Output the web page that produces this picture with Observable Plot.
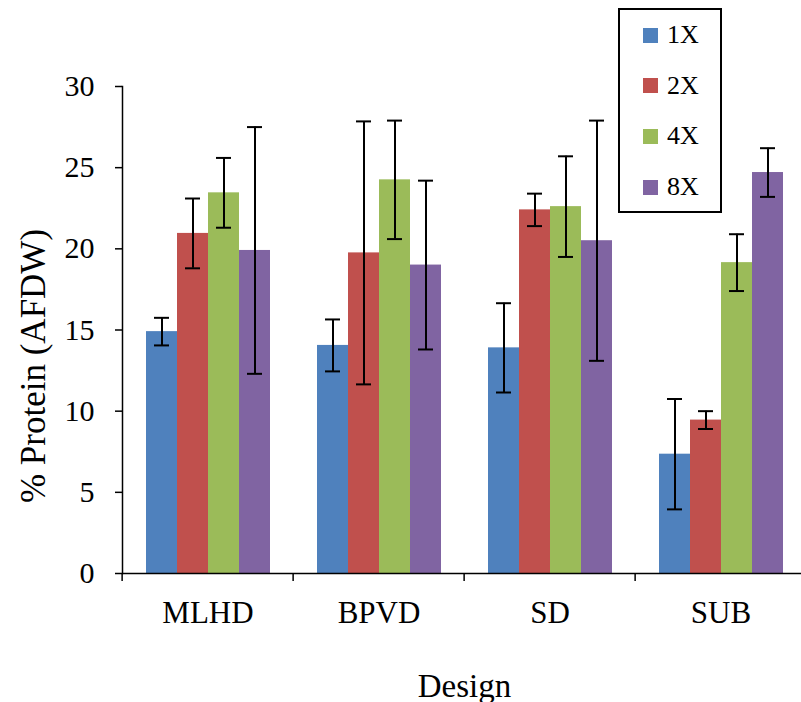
<!DOCTYPE html>
<html>
<head>
<meta charset="utf-8">
<script src="https://cdn.jsdelivr.net/npm/d3@7"></script>
<script src="https://cdn.jsdelivr.net/npm/@observablehq/plot@0.6"></script>
<style>
  html, body { margin: 0; padding: 0; background: #fff; }
  #wrap { position: relative; width: 801px; height: 702px; font-family: "Liberation Serif", "Times New Roman", serif; }
  #legend { position: absolute; left: 618px; top: 8px; width: 104px; height: 205px; border: 2px solid #000; box-sizing: border-box; background: #fff; padding-top: 10px; }
  .row { display: flex; align-items: center; height: 30px; margin-bottom: 20.7px; padding-left: 23px; font-size: 26px; line-height: 30px; color: #000; }
  .sw { width: 15px; height: 15px; margin-right: 9px; }
</style>
</head>
<body>
<div id="wrap"></div>
<script>
const designs = ["MLHD", "BPVD", "SD", "SUB"];
const seriesNames = ["1X", "2X", "4X", "8X"];
const seriesColors = ["#4F81BD", "#C0504D", "#9BBB59", "#8064A2"];
const mean1X = [14.9, 14.05, 13.9, 7.35];
const mean2X = [20.95, 19.75, 22.4, 9.45];
const mean4X = [23.45, 24.25, 22.6, 19.15];
const mean8X = [19.9, 19.0, 20.5, 24.7];
const err1X = [0.85, 1.6, 2.75, 3.4];
const err2X = [2.15, 8.1, 1.0, 0.55];
const err4X = [2.15, 3.65, 3.1, 1.75];
const err8X = [7.6, 5.2, 7.4, 1.5];
const yTicks = [0, 5, 10, 15, 20, 25, 30];
const yTitle = "% Protein (AFDW)";
const xTitle = "Design";

const means = [mean1X, mean2X, mean4X, mean8X];
const errs = [err1X, err2X, err4X, err8X];
const rows = [];
designs.forEach((d, di) => {
  seriesNames.forEach((s, si) => {
    const v = means[si][di], e = errs[si][di];
    rows.push({design: d, series: s, value: v, lo: v - e, hi: v + e});
  });
});

const W = 801, H = 702, ML = 120, MR = -6;
const fxStep = (W - MR - ML) / designs.length;

const chart = Plot.plot({
  width: W,
  height: H,
  marginLeft: ML,
  marginRight: MR,
  marginTop: 86,
  marginBottom: 129,
  style: {fontFamily: "Liberation Serif, Times New Roman, serif", fontSize: "26px", background: "#fff", color: "#000"},
  fx: {domain: designs, padding: 0, label: null},
  x: {domain: seriesNames, paddingInner: 0, paddingOuter: 0.75, axis: null},
  y: {domain: [0, 30], label: null},
  color: {domain: seriesNames, range: seriesColors},
  marks: [
    Plot.barY(rows, {fx: "design", x: "series", y: "value", fill: "series"}),
    Plot.ruleX(rows, {fx: "design", x: "series", y1: "lo", y2: "hi", stroke: "#000", strokeWidth: 2}),
    Plot.tickY(rows, {fx: "design", x: "series", y: "lo", stroke: "#000", strokeWidth: 2, insetLeft: 8, insetRight: 8}),
    Plot.tickY(rows, {fx: "design", x: "series", y: "hi", stroke: "#000", strokeWidth: 2, insetLeft: 8, insetRight: 8}),
    Plot.ruleY([0], {stroke: "#000", strokeWidth: 1.5}),
    Plot.frame({anchor: "left", facetAnchor: "left", stroke: "#000", strokeWidth: 1.5}),
    Plot.axisY({ticks: yTicks, tickSize: 7, tickPadding: 21, fontSize: 30, label: null, strokeWidth: 1.5}),
    Plot.axisFx({anchor: "bottom", tickSize: 0, tickPadding: 27, fontSize: 31, label: null}),
    Plot.axisFx({anchor: "bottom", tickSize: 0, tickFormat: () => "", fontSize: 33, label: xTitle, labelAnchor: "center", labelOffset: 123}),
    Plot.axisFx({anchor: "bottom", tickSize: 8, tickFormat: () => "", dx: -fxStep / 2, label: null, strokeWidth: 1.5}),
    Plot.text([{design: designs[0], t: yTitle}], {fx: "design", text: "t", frameAnchor: "left", textAnchor: "middle", rotate: -90, dx: -89, dy: 36, fontSize: 35, fill: "#000"})
  ]
});

const wrap = document.getElementById("wrap");
wrap.appendChild(chart);

const legend = document.createElement("div");
legend.id = "legend";
seriesNames.forEach((s, i) => {
  const r = document.createElement("div");
  r.className = "row";
  const sw = document.createElement("span");
  sw.className = "sw";
  sw.style.background = seriesColors[i];
  const t = document.createElement("span");
  t.textContent = s;
  r.appendChild(sw);
  r.appendChild(t);
  legend.appendChild(r);
});
wrap.appendChild(legend);
chart.style.position = "absolute";
chart.style.left = "0";
chart.style.top = "0";
</script>
</body>
</html>
